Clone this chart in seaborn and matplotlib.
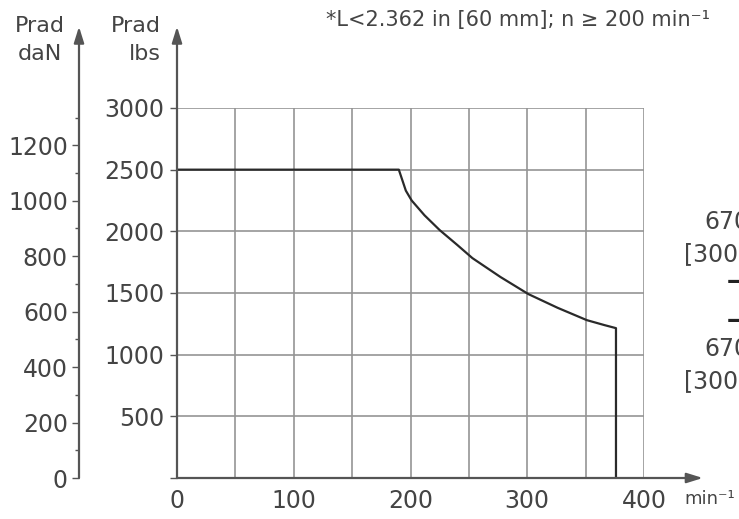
import numpy as np
import pandas as pd
import matplotlib
matplotlib.use('Agg')
import matplotlib.pyplot as plt
import seaborn as sns

# radial load limit vs. speed
speed_min = [0, 190, 196, 201, 212, 225, 240, 253, 277, 301, 326, 351, 366, 376, 376]
load_lbs = [2500, 2500, 2330, 2250, 2130, 2010, 1890, 1783, 1630, 1491, 1380, 1280, 1240, 1215, 0]

x_ticks = [0, 100, 200, 300, 400]
x_minor = [50, 150, 250, 350]
lbs_ticks = [0, 500, 1000, 1500, 2000, 2500, 3000]
dan_ticks = [0, 200, 400, 600, 800, 1000, 1200]
dan_minor = [100, 300, 500, 700, 900, 1100, 1300]
LBS_PER_DAN = 2.248

note = "*L<2.362 in [60 mm]; n \u2265 200 min\u207b\u00b9"

sns.set_theme(style="white")
plt.rcParams['font.family'] = ['DejaVu Sans']

TXT = "#444444"
AX = "#555555"
GRID = "#959595"

df = pd.DataFrame({"speed": speed_min, "load": load_lbs})

fig = plt.figure(figsize=(7.39, 5.19), dpi=100)
ax = fig.add_axes([177 / 739, 41 / 519, 467 / 739, 370 / 519])

sns.lineplot(data=df, x="speed", y="load", sort=False, estimator=None,
             color="#2a2a2a", linewidth=1.6, ax=ax, zorder=5)

ax.set_xlim(0, 400)
ax.set_ylim(0, 3000)
ax.set_xticks(x_ticks)
ax.set_xticks(x_minor, minor=True)
ax.set_yticks(lbs_ticks)
ax.set_yticklabels([str(t) if t else "" for t in lbs_ticks])
ax.grid(True, which="both", axis="x", color=GRID, linewidth=1.2)
ax.grid(True, which="major", axis="y", color=GRID, linewidth=1.2)
for s in ax.spines.values():
    s.set_visible(False)
ax.set_xlabel("")
ax.set_ylabel("")
ax.tick_params(axis="x", which="major", length=4, width=1, color=AX, pad=4,
               labelsize=17, labelcolor=TXT)
ax.tick_params(axis="x", which="minor", length=4, width=1, color=AX)
ax.tick_params(axis="y", length=5, width=1, color=AX, pad=4,
               labelsize=17, labelcolor=TXT, left=True)

# daN axis on the far left
sec = ax.secondary_yaxis(-98 / 467, functions=(lambda y: y / LBS_PER_DAN,
                                               lambda y: y * LBS_PER_DAN))
sec.set_yticks(dan_ticks)
sec.set_yticks(dan_minor, minor=True)
sec.spines["left"].set_visible(False)
sec.tick_params(axis="y", which="major", length=5, width=1, color=AX, pad=3,
                labelsize=17, labelcolor=TXT)
sec.tick_params(axis="y", which="minor", length=3, width=1, color=AX)

# axis lines with arrow heads
arrow = dict(arrowstyle="-|>,head_length=0.8,head_width=0.25", color=AX,
             lw=1.6, shrinkA=0, shrinkB=0)
ax.annotate("", xy=(1.126, 0), xytext=(0, 0), xycoords="axes fraction",
            arrowprops=arrow, zorder=6)
ax.annotate("", xy=(0, 1.22), xytext=(0, 0), xycoords="axes fraction",
            arrowprops=arrow, zorder=6)
ax.annotate("", xy=(-98 / 467, 1.22), xytext=(-98 / 467, 0),
            xycoords="axes fraction", arrowprops=arrow, zorder=6,
            annotation_clip=False)

# labels
fig.text(40 / 739, 1 - 40 / 519, "Prad\ndaN", ha="center", va="center",
         fontsize=16, color=TXT, linespacing=1.55)
fig.text(161 / 739, 1 - 40 / 519, "Prad\nlbs", ha="right", va="center",
         fontsize=16, color=TXT, linespacing=1.55, multialignment="right")
fig.text(326 / 739, 1 - 20 / 519, note, ha="left", va="center",
         fontsize=15, color=TXT)
fig.text(735 / 739, 1 - 499 / 519, "min\u207b\u00b9", ha="right", va="center",
         fontsize=13, color=TXT)

# cut-off annotations on the right edge (truncated in the source image too)
fig.text(704 / 739, 1 - 222 / 519, "670", ha="left", va="center", fontsize=17, color=TXT)
fig.text(684 / 739, 1 - 254 / 519, "[300", ha="left", va="center", fontsize=17, color=TXT)
fig.text(727 / 739, 1 - 281 / 519, "\u2014", ha="left", va="center", fontsize=17,
         color="#222222", fontweight="bold")
fig.text(727 / 739, 1 - 320 / 519, "\u2014", ha="left", va="center", fontsize=17,
         color="#222222", fontweight="bold")
fig.text(704 / 739, 1 - 349 / 519, "670", ha="left", va="center", fontsize=17, color=TXT)
fig.text(684 / 739, 1 - 381 / 519, "[300", ha="left", va="center", fontsize=17, color=TXT)

fig.savefig("out.png", dpi=100)
